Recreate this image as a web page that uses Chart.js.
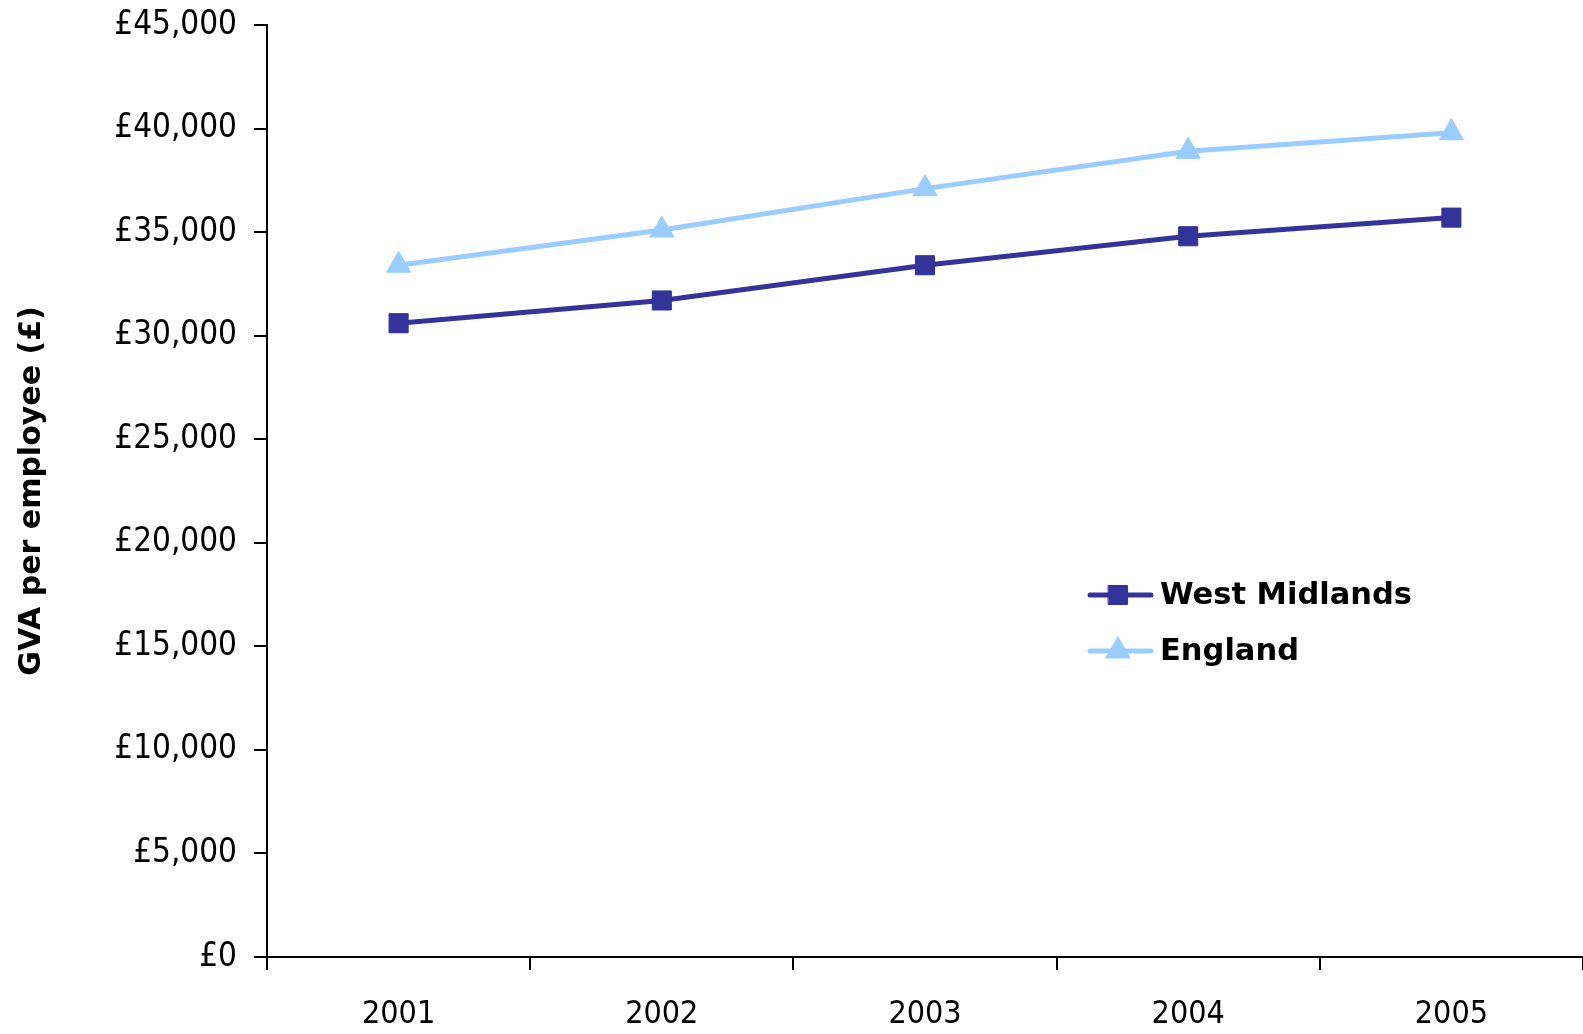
<!DOCTYPE html>
<html>
<head>
<meta charset="utf-8">
<script src="https://cdn.jsdelivr.net/npm/chart.js@4.4.0/dist/chart.umd.min.js"></script>
<style>
  html, body { margin: 0; padding: 0; background: #fff; overflow: hidden; }
  #wrap { width: 1583px; height: 1034px; position: relative; }
  canvas { display: block; }
</style>
</head>
<body>
<div id="wrap"><canvas id="c" width="1583" height="1034"></canvas></div>
<script>
const years = ['2001', '2002', '2003', '2004', '2005'];
const westMidlands = [30600, 31700, 33400, 34800, 35700];
const england = [33400, 35100, 37100, 38900, 39800];
const yMin = 0, yMax = 45000, yStep = 5000;
const yTitle = 'GVA per employee (£)';

const FONT = "'DejaVu Sans', sans-serif";
const FONT_C = "'DejaVu Sans Condensed', 'DejaVu Sans', sans-serif";

const legendPlugin = {
  id: 'customLegend',
  afterDraw(chart) {
    const ctx = chart.ctx;
    const rows = [595, 651];
    chart.data.datasets.forEach((ds, i) => {
      const y = rows[i];
      const x0 = 1090, x1 = 1151, xm = 1118;
      ctx.save();
      ctx.strokeStyle = ds.borderColor;
      ctx.lineWidth = 5;
      ctx.lineCap = 'round';
      ctx.beginPath(); ctx.moveTo(x0, y); ctx.lineTo(x1, y); ctx.stroke();
      ctx.fillStyle = ds.pointBackgroundColor;
      ctx.strokeStyle = ds.pointBorderColor;
      ctx.lineWidth = 1;
      ctx.beginPath();
      if (ds.pointStyle === 'rect') {
        const s = ds.pointRadius * Math.SQRT1_2;
        ctx.rect(xm - s, y - s, 2 * s, 2 * s);
      } else {
        const r = ds.pointRadius;
        ctx.moveTo(xm, y - r);
        ctx.lineTo(xm + r * 0.866, y + r / 2);
        ctx.lineTo(xm - r * 0.866, y + r / 2);
        ctx.closePath();
      }
      ctx.fill(); ctx.stroke();
      ctx.fillStyle = '#000';
      ctx.font = "bold 30.5px " + FONT;
      ctx.textBaseline = 'middle';
      ctx.textAlign = 'left';
      ctx.fillText(ds.label, 1160, y + 1);
      ctx.restore();
    });
  }
};

new Chart(document.getElementById('c'), {
  type: 'line',
  data: {
    labels: years,
    datasets: [
      {
        label: 'West Midlands',
        data: westMidlands,
        borderColor: '#333399',
        backgroundColor: '#333399',
        pointBackgroundColor: '#333399',
        pointBorderColor: '#333399',
        borderWidth: 5,
        pointStyle: 'rect',
        pointRadius: 13.5,
        pointBorderWidth: 1,
        tension: 0
      },
      {
        label: 'England',
        data: england,
        borderColor: '#99CCFF',
        backgroundColor: '#99CCFF',
        pointBackgroundColor: '#99CCFF',
        pointBorderColor: '#99CCFF',
        borderWidth: 5,
        pointStyle: 'triangle',
        pointRadius: 14,
        pointBorderWidth: 1,
        tension: 0
      }
    ]
  },
  options: {
    responsive: false,
    animation: false,
    devicePixelRatio: 1,
    layout: { autoPadding: false, padding: { top: 25, right: 0, left: 0, bottom: 0 } },
    plugins: {
      legend: { display: false },
      tooltip: { enabled: false }
    },
    scales: {
      x: {
        type: 'category',
        offset: true,
        grid: {
          offset: true,
          drawOnChartArea: false,
          drawTicks: true,
          tickLength: 13,
          color: '#000',
          lineWidth: 2
        },
        border: { display: true, color: '#000', width: 2 },
        ticks: {
          color: '#000',
          font: { family: FONT_C, size: 32 },
          padding: 25,
          maxRotation: 0
        },
        afterFit(scale) { scale.height = 77; scale.paddingLeft = 0; scale.paddingRight = 0; }
      },
      y: {
        min: yMin,
        max: yMax,
        ticks: {
          stepSize: yStep,
          color: '#000',
          font: { family: FONT_C, size: 33 },
          padding: 17,
          callback: (v) => '£' + Number(v).toLocaleString('en-GB')
        },
        grid: {
          drawOnChartArea: false,
          drawTicks: true,
          tickLength: 13,
          color: '#000',
          lineWidth: 2
        },
        border: { display: true, color: '#000', width: 2 },
        title: {
          display: true,
          text: yTitle,
          color: '#000',
          font: { family: FONT, size: 30, weight: 'bold' },
          padding: { top: 14, bottom: 0 }
        },
        afterFit(scale) { scale.width = 267; scale.paddingTop = 0; scale.paddingBottom = 0; }
      }
    }
  },
  plugins: [legendPlugin]
});
</script>
</body>
</html>
